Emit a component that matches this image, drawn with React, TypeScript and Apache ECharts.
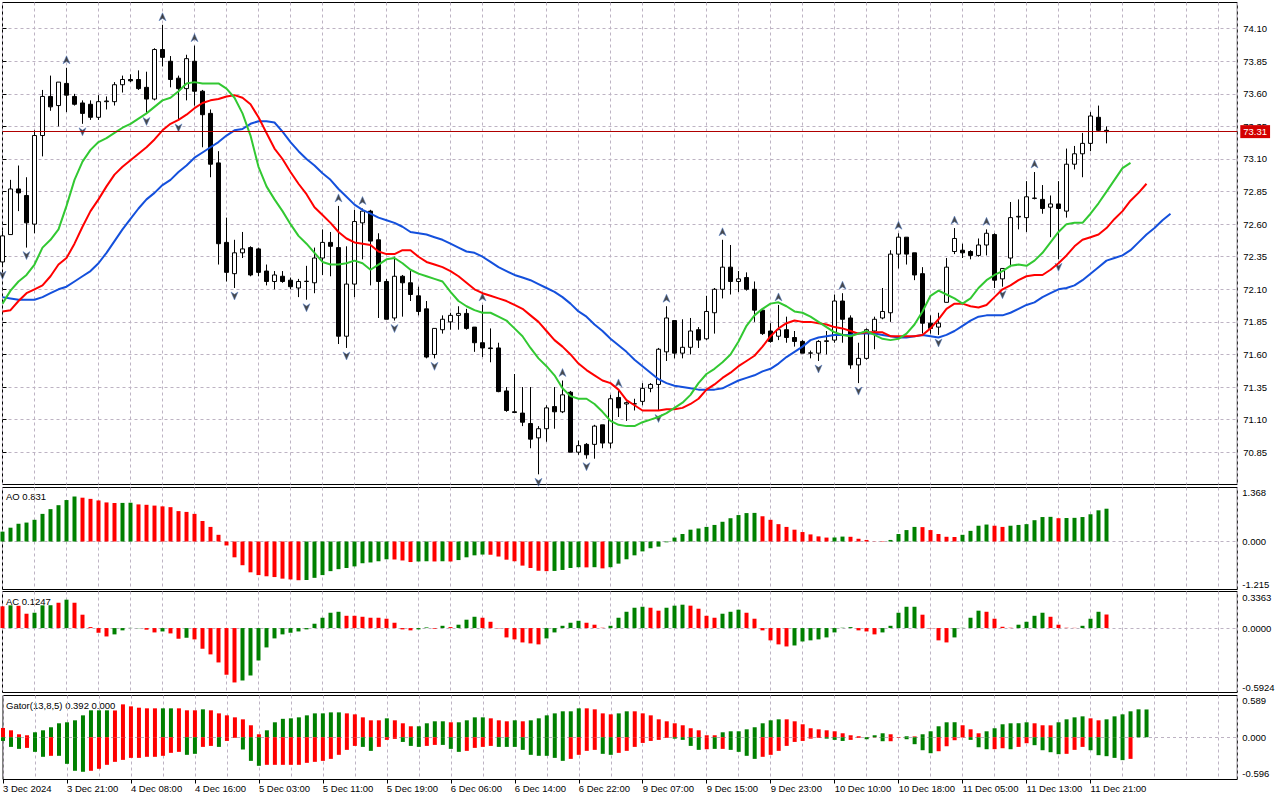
import React, { useEffect, useRef } from "react";
import * as echarts from "echarts";

// ---------- data ----------
const tickLabels = [
  "3 Dec 2024", "3 Dec 21:00", "4 Dec 08:00", "4 Dec 16:00", "5 Dec 03:00", "5 Dec 11:00",
  "5 Dec 19:00", "6 Dec 06:00", "6 Dec 14:00", "6 Dec 22:00", "9 Dec 07:00", "9 Dec 15:00",
  "9 Dec 23:00", "10 Dec 10:00", "10 Dec 18:00", "11 Dec 05:00", "11 Dec 13:00", "11 Dec 21:00",
];
const LABEL_STEP = 8;

// [open, high, low, close]
const candles = [
  [72.31, 72.55, 72.27, 72.51], [72.52, 72.94, 72.52, 72.87], [72.87, 73.05, 72.70, 72.84], [72.82, 72.96, 72.42, 72.61],
  [72.60, 73.32, 72.53, 73.28], [73.28, 73.63, 73.12, 73.58], [73.58, 73.74, 73.47, 73.50], [73.51, 73.69, 73.35, 73.69],
  [73.68, 73.80, 73.46, 73.59], [73.58, 73.60, 73.51, 73.52], [73.53, 73.55, 73.37, 73.45], [73.52, 73.55, 73.40, 73.42],
  [73.42, 73.59, 73.40, 73.54], [73.54, 73.58, 73.48, 73.545], [73.54, 73.69, 73.51, 73.67], [73.67, 73.74, 73.61, 73.71],
  [73.71, 73.75, 73.69, 73.70], [73.71, 73.78, 73.63, 73.64], [73.65, 73.77, 73.45, 73.56], [73.56, 73.95, 73.55, 73.94],
  [73.94, 74.13, 73.81, 73.88], [73.85, 73.89, 73.65, 73.71], [73.72, 73.74, 73.40, 73.64], [73.64, 73.90, 73.55, 73.87],
  [73.85, 73.97, 73.51, 73.62], [73.62, 73.63, 73.19, 73.44], [73.45, 73.48, 72.96, 73.06], [73.07, 73.16, 72.29, 72.45],
  [72.46, 72.65, 72.16, 72.23], [72.22, 72.48, 72.11, 72.38], [72.38, 72.54, 72.34, 72.41], [72.42, 72.43, 72.20, 72.21],
  [72.41, 72.42, 72.20, 72.23], [72.24, 72.29, 72.13, 72.16], [72.16, 72.24, 72.10, 72.21], [72.20, 72.24, 72.15, 72.16],
  [72.17, 72.19, 72.10, 72.12], [72.11, 72.18, 72.04, 72.16], [72.16, 72.28, 72.02, 72.162], [72.15, 72.42, 72.07, 72.34],
  [72.34, 72.56, 72.21, 72.46], [72.46, 72.54, 72.20, 72.43], [72.42, 72.74, 71.68, 71.74], [71.74, 72.43, 71.65, 72.14],
  [72.14, 72.71, 72.04, 72.62], [72.61, 72.72, 72.33, 72.70], [72.70, 72.71, 72.13, 72.47], [72.48, 72.53, 71.88, 72.16],
  [72.16, 72.18, 71.87, 71.87], [71.88, 72.35, 71.86, 72.20], [72.20, 72.21, 71.89, 72.15], [72.15, 72.24, 72.01, 72.06],
  [72.05, 72.12, 71.90, 71.93], [71.95, 72.01, 71.57, 71.58], [71.60, 71.80, 71.57, 71.80], [71.79, 71.90, 71.76, 71.87],
  [71.85, 71.92, 71.79, 71.90], [71.90, 71.97, 71.79, 71.915], [71.915, 71.95, 71.79, 71.80], [71.81, 71.81, 71.62, 71.69],
  [71.69, 71.98, 71.58, 71.65], [71.65, 71.80, 71.54, 71.645], [71.65, 71.69, 71.31, 71.315], [71.32, 71.35, 71.16, 71.17],
  [71.16, 71.45, 71.15, 71.155], [71.15, 71.35, 71.05, 71.08], [71.07, 71.35, 70.88, 70.95], [70.96, 71.05, 70.68, 71.03],
  [71.03, 71.21, 70.93, 71.19], [71.20, 71.35, 71.03, 71.16], [71.16, 71.40, 71.15, 71.29], [71.31, 71.32, 70.85, 70.85],
  [70.85, 70.94, 70.83, 70.90], [70.91, 70.92, 70.80, 70.83], [70.91, 71.06, 70.80, 71.05], [71.06, 71.06, 70.88, 70.92],
  [70.92, 71.29, 70.88, 71.26], [71.27, 71.32, 71.12, 71.19], [71.22, 71.24, 71.09, 71.23], [71.22, 71.26, 71.17, 71.222],
  [71.24, 71.38, 71.21, 71.34], [71.34, 71.38, 71.31, 71.37], [71.37, 71.65, 71.17, 71.64], [71.62, 71.97, 71.55, 71.88],
  [71.86, 71.86, 71.57, 71.61], [71.61, 71.87, 71.57, 71.655], [71.655, 71.88, 71.60, 71.78], [71.79, 71.81, 71.65, 71.71],
  [71.72, 72.05, 71.71, 71.93], [71.92, 72.11, 71.76, 72.10], [72.10, 72.48, 72.03, 72.27], [72.27, 72.44, 72.06, 72.16],
  [72.16, 72.24, 72.08, 72.18], [72.19, 72.23, 72.09, 72.10], [72.10, 72.16, 71.85, 71.94], [71.94, 71.95, 71.75, 71.76],
  [71.78, 71.84, 71.69, 71.70], [71.74, 71.98, 71.71, 71.79], [71.79, 71.89, 71.69, 71.73], [71.73, 71.78, 71.66, 71.70],
  [71.70, 71.71, 71.61, 71.61], [71.61, 71.63, 71.57, 71.612], [71.61, 71.71, 71.55, 71.70], [71.70, 71.78, 71.60, 71.705],
  [71.71, 72.06, 71.69, 72.01], [72.01, 72.07, 71.69, 71.87], [71.88, 71.90, 71.49, 71.52], [71.52, 71.69, 71.38, 71.57],
  [71.57, 71.80, 71.56, 71.79], [71.78, 71.89, 71.64, 71.87], [71.88, 72.11, 71.87, 71.93], [71.92, 72.40, 71.85, 72.37],
  [72.37, 72.53, 72.26, 72.50], [72.50, 72.50, 72.29, 72.37], [72.38, 72.38, 72.17, 72.21], [72.22, 72.27, 71.76, 71.84],
  [71.84, 71.90, 71.76, 71.80], [71.81, 71.92, 71.75, 71.84], [72.00, 72.34, 72.00, 72.27], [72.39, 72.57, 72.37, 72.49],
  [72.40, 72.45, 72.34, 72.38], [72.39, 72.40, 72.33, 72.36], [72.36, 72.49, 72.35, 72.44], [72.44, 72.56, 72.36, 72.53],
  [72.52, 72.53, 72.11, 72.17], [72.18, 72.26, 72.12, 72.26], [72.34, 72.77, 72.27, 72.65], [72.655, 72.79, 72.56, 72.66],
  [72.65, 72.93, 72.54, 72.81], [72.80, 73.00, 72.79, 72.798], [72.79, 72.90, 72.68, 72.72], [72.73, 72.82, 72.50, 72.755],
  [72.755, 72.93, 72.33, 72.72], [72.70, 73.18, 72.65, 73.06], [73.06, 73.20, 73.02, 73.14], [73.14, 73.30, 72.96, 73.22],
  [73.22, 73.46, 73.16, 73.43], [73.42, 73.51, 73.31, 73.32], [73.32, 73.35, 73.22, 73.31],
];

// Alligator lines (as displayed, already shifted forward)
const lips = [
  71.99, 72.09, 72.16, 72.21, 72.29, 72.42, 72.48, 72.56, 72.74, 72.94,
  73.08, 73.17, 73.23, 73.26, 73.30, 73.34, 73.37, 73.41, 73.45, 73.50,
  73.55, 73.57, 73.62, 73.68, 73.69, 73.68, 73.68, 73.68, 73.64, 73.57,
  73.45, 73.28, 73.04, 72.89, 72.79, 72.70, 72.60, 72.51, 72.45, 72.38,
  72.31, 72.29, 72.29, 72.30, 72.32, 72.30, 72.25, 72.29, 72.33, 72.34,
  72.30, 72.25, 72.22, 72.20, 72.18, 72.16, 72.08, 72.01, 71.97, 71.94,
  71.92, 71.92, 71.89, 71.86, 71.80, 71.74, 71.65, 71.57, 71.51, 71.44,
  71.34, 71.28, 71.26, 71.26, 71.22, 71.16, 71.09, 71.06, 71.05, 71.05,
  71.08, 71.10, 71.12, 71.15, 71.19, 71.23, 71.29, 71.38, 71.45, 71.49,
  71.54, 71.60, 71.70, 71.82, 71.90, 71.95, 71.99, 72.00, 71.97, 71.93,
  71.92, 71.89, 71.85, 71.81, 71.77, 71.75, 71.74, 71.76, 71.78, 71.75,
  71.72, 71.71, 71.72, 71.76, 71.83, 71.93, 72.05, 72.09, 72.06, 72.03,
  71.99, 72.03, 72.11, 72.17, 72.21, 72.24, 72.28, 72.29, 72.28, 72.32,
  72.38, 72.46, 72.54, 72.60, 72.61, 72.61, 72.68, 72.76, 72.85, 72.94,
  73.03, 73.07,
];
const teeth = [
  71.93, 71.94, 72.01, 72.07, 72.10, 72.13, 72.20, 72.29, 72.34, 72.45,
  72.58, 72.70, 72.79, 72.89, 72.98, 73.04, 73.09, 73.14, 73.19, 73.25,
  73.32, 73.37, 73.40, 73.44, 73.49, 73.53, 73.55, 73.56, 73.58, 73.59,
  73.57, 73.52, 73.42, 73.30, 73.18, 73.10, 73.00, 72.91, 72.83, 72.73,
  72.67, 72.61, 72.54, 72.49, 72.46, 72.45, 72.44, 72.39, 72.37, 72.37,
  72.40, 72.40, 72.35, 72.31, 72.29, 72.27, 72.24, 72.20, 72.15, 72.10,
  72.07, 72.05, 72.03, 72.01, 71.98, 71.95, 71.90, 71.85, 71.78, 71.71,
  71.66, 71.60, 71.53, 71.48, 71.44, 71.40, 71.38, 71.33, 71.25, 71.21,
  71.17, 71.17, 71.17, 71.18, 71.18, 71.19, 71.22, 71.26, 71.33, 71.37,
  71.42, 71.46, 71.51, 71.55, 71.59, 71.66, 71.74, 71.80, 71.84, 71.86,
  71.85, 71.85, 71.84, 71.83, 71.81, 71.80, 71.78, 71.76, 71.77, 71.77,
  71.77, 71.74, 71.74, 71.74, 71.74, 71.75, 71.80, 71.87, 71.95, 71.99,
  71.99, 71.97, 71.96, 71.98, 72.04, 72.10, 72.13, 72.17, 72.20, 72.21,
  72.21, 72.25, 72.30, 72.36, 72.43, 72.48, 72.50, 72.52, 72.57, 72.64,
  72.70, 72.78, 72.84, 72.91,
];
const jaw = [
  72.04, 72.03, 72.02, 72.02, 72.02, 72.04, 72.07, 72.10, 72.12, 72.16,
  72.20, 72.24, 72.30, 72.38, 72.47, 72.56, 72.64, 72.72, 72.79, 72.84,
  72.90, 72.94, 73.00, 73.05, 73.11, 73.15, 73.19, 73.23, 73.28, 73.32,
  73.33, 73.37, 73.39, 73.39, 73.38, 73.31, 73.23, 73.16, 73.10, 73.05,
  72.99, 72.94, 72.87, 72.81, 72.75, 72.71, 72.68, 72.65, 72.63, 72.61,
  72.58, 72.54, 72.53, 72.52, 72.50, 72.48, 72.45, 72.42, 72.39, 72.38,
  72.35, 72.31, 72.27, 72.24, 72.21, 72.19, 72.17, 72.14, 72.11, 72.08,
  72.04, 71.99, 71.93, 71.89, 71.83, 71.78, 71.72, 71.67, 71.62, 71.56,
  71.51, 71.46, 71.41, 71.38, 71.36, 71.35, 71.34, 71.33, 71.33, 71.33,
  71.34, 71.37, 71.40, 71.42, 71.44, 71.47, 71.49, 71.53, 71.58, 71.62,
  71.66, 71.71, 71.73, 71.74, 71.75, 71.75, 71.75, 71.76, 71.76, 71.76,
  71.75, 71.74, 71.73, 71.73, 71.74, 71.75, 71.74, 71.73, 71.75, 71.78,
  71.82, 71.86, 71.89, 71.90, 71.90, 71.90, 71.92, 71.95, 71.98, 72.00,
  72.04, 72.07, 72.10, 72.11, 72.13, 72.17, 72.22, 72.27, 72.32, 72.34,
  72.36, 72.40, 72.46, 72.52, 72.57, 72.63, 72.68,
];

// Fractal bar indices
const fractalUp = [8, 20, 24, 42, 45, 60, 70, 77, 83, 90, 97, 105, 112, 119, 123, 129];
const fractalDown = [0, 3, 10, 18, 22, 29, 38, 43, 49, 54, 67, 73, 82, 102, 107, 117, 125, 132];

// Awesome Oscillator
const ao = [
  0.25, 0.35, 0.45, 0.48, 0.55, 0.70, 0.82, 0.92, 1.05, 1.14,
  1.11, 1.08, 1.04, 0.99, 0.975, 0.978, 0.982, 0.94, 0.93, 0.91,
  0.89, 0.87, 0.77, 0.75, 0.70, 0.52, 0.37, 0.17, -0.10, -0.40,
  -0.60, -0.78, -0.85, -0.88, -0.90, -0.94, -0.96, -0.98, -0.975, -0.92,
  -0.85, -0.75, -0.70, -0.67, -0.63, -0.55, -0.53, -0.50, -0.45, -0.455,
  -0.48, -0.52, -0.505, -0.50, -0.505, -0.50, -0.505, -0.47, -0.40, -0.35,
  -0.33, -0.335, -0.38, -0.46, -0.50, -0.61, -0.67, -0.74, -0.75, -0.745,
  -0.72, -0.67, -0.65, -0.655, -0.65, -0.68, -0.65, -0.56, -0.45, -0.35,
  -0.25, -0.17, -0.13, -0.02, 0.10, 0.19, 0.30, 0.33, 0.37, 0.42,
  0.50, 0.59, 0.67, 0.72, 0.725, 0.64, 0.55, 0.44, 0.37, 0.30,
  0.24, 0.18, 0.13, 0.10, 0.102, 0.125, 0.12, 0.07, 0.04, 0.005,
  -0.01, 0.04, 0.19, 0.29, 0.37, 0.365, 0.29, 0.19, 0.12, 0.115,
  0.17, 0.27, 0.40, 0.43, 0.40, 0.37, 0.40, 0.42, 0.44, 0.54,
  0.62, 0.625, 0.59, 0.595, 0.60, 0.62, 0.69, 0.79, 0.831,
];

// Accelerator Oscillator and its bar direction (g = up, r = down)
const ac = [
  0.20, 0.209, 0.205, 0.132, 0.141, 0.209, 0.21, 0.233, 0.261, 0.233,
  0.123, 0.009, -0.043, -0.077, -0.058, -0.021, 0.002, -0.002, -0.015, -0.040,
  -0.031, -0.049, -0.098, -0.089, -0.104, -0.19, -0.242, -0.316, -0.429, -0.50,
  -0.482, -0.436, -0.298, -0.178, -0.095, -0.058, -0.043, -0.031, -0.012, 0.04,
  0.095, 0.141, 0.15, 0.113, 0.113, 0.104, 0.095, 0.095, 0.086, 0.049,
  -0.012, -0.021, -0.012, 0.006, -0.006, 0.021, 0.009, 0.031, 0.077, 0.104,
  0.095, 0.058, -0.003, -0.086, -0.104, -0.132, -0.141, -0.15, -0.095, -0.04,
  0.021, 0.049, 0.067, 0.049, 0.031, 0.003, 0.021, 0.095, 0.15, 0.187,
  0.196, 0.187, 0.16, 0.187, 0.206, 0.215, 0.206, 0.178, 0.113, 0.095,
  0.132, 0.15, 0.169, 0.141, 0.086, -0.021, -0.113, -0.15, -0.169, -0.16,
  -0.123, -0.113, -0.104, -0.086, -0.04, 0.003, 0.009, -0.021, -0.031, -0.058,
  -0.04, 0.021, 0.141, 0.196, 0.196, 0.123, -0.003, -0.113, -0.132, -0.086,
  0.002, 0.095, 0.16, 0.15, 0.086, 0.012, 0.003, 0.031, 0.058, 0.113,
  0.141, 0.104, 0.031, 0.003, 0.002, 0.021, 0.086, 0.15, 0.1247,
];
const acDir =
  "rgrrgggrgr" + "rrrrggggrr" + "grrgrrrrrr" + "gggggggggg" + "gggrrrrrrr" +
  "rrggrgrggg" + "rrrrrrrrgg" + "gggrrrgggg" + "grrgggrrrr" + "gggrrrrrrg" +
  "gggggggrrr" + "gggggrrrrg" + "gggrrrrggg" + "grrrrgggr";

// Gator oscillator (upper = |jaw - teeth|, lower = -|teeth - lips|)
const gatorUp = [
  0.131, 0.098, 0.042, 0.028, 0.07, 0.098, 0.141, 0.197, 0.211, 0.239,
  0.309, 0.38, 0.38, 0.38, 0.378, 0.464, 0.436, 0.417, 0.408, 0.408,
  0.408, 0.408, 0.408, 0.38, 0.38, 0.394, 0.38, 0.337, 0.309, 0.281,
  0.253, 0.169, 0.042, 0.098, 0.211, 0.26, 0.267, 0.281, 0.309, 0.337,
  0.337, 0.351, 0.351, 0.337, 0.323, 0.281, 0.239, 0.239, 0.267, 0.239,
  0.197, 0.155, 0.155, 0.197, 0.225, 0.225, 0.211, 0.211, 0.239, 0.281,
  0.281, 0.267, 0.239, 0.225, 0.239, 0.225, 0.239, 0.267, 0.309, 0.337,
  0.366, 0.366, 0.408, 0.408, 0.394, 0.337, 0.323, 0.337, 0.366, 0.366,
  0.337, 0.309, 0.253, 0.225, 0.197, 0.169, 0.127, 0.098, 0.028, 0.028,
  0.07, 0.084, 0.084, 0.112, 0.141, 0.197, 0.239, 0.253, 0.253, 0.225,
  0.183, 0.127, 0.112, 0.098, 0.084, 0.056, 0.028, 0.014, 0.003, 0.028,
  0.056, 0.042, 0.003, 0.014, 0.012, 0.042, 0.084, 0.155, 0.211, 0.212,
  0.169, 0.112, 0.056, 0.084, 0.127, 0.183, 0.197, 0.198, 0.211, 0.197,
  0.169, 0.168, 0.211, 0.253, 0.281, 0.295, 0.267, 0.239, 0.253, 0.295,
  0.323, 0.366, 0.394, 0.392,
];
const gatorUpDir =
  "rrrrgggggg" + "ggggrrrrrr" + "ggrrrgrrrr" + "rrrggggggg" + "gggrrrrrgr" +
  "rrggggrggg" + "grrrgrgggg" + "gggrrrrggr" + "rrrrrrrrrr" + "ggggggggrr" +
  "rrrrrrrrrg" + "grrgrggggg" + "rrrggggggr" + "rrggggrrgg" + "gggg";
const gatorDown = [
  -0.052, -0.136, -0.164, -0.15, -0.206, -0.276, -0.262, -0.262, -0.375, -0.473,
  -0.487, -0.473, -0.445, -0.389, -0.347, -0.319, -0.291, -0.291, -0.276, -0.276,
  -0.262, -0.22, -0.206, -0.248, -0.234, -0.136, -0.122, -0.136, -0.052, -0.01,
  -0.173, -0.333, -0.403, -0.389, -0.389, -0.389, -0.389, -0.389, -0.361, -0.347,
  -0.333, -0.305, -0.248, -0.178, -0.122, -0.136, -0.192, -0.136, -0.037, -0.023,
  -0.066, -0.122, -0.136, -0.122, -0.108, -0.108, -0.164, -0.206, -0.192, -0.15,
  -0.136, -0.122, -0.136, -0.136, -0.136, -0.178, -0.248, -0.262, -0.262, -0.291,
  -0.333, -0.305, -0.248, -0.192, -0.178, -0.234, -0.248, -0.22, -0.192, -0.136,
  -0.08, -0.052, -0.037, -0.01, -0.02, -0.037, -0.122, -0.178, -0.169, -0.164,
  -0.164, -0.178, -0.206, -0.262, -0.305, -0.276, -0.248, -0.192, -0.122, -0.066,
  -0.052, -0.02, -0.01, -0.02, -0.037, -0.052, -0.037, -0.01, -0.028, -0.003,
  -0.056, -0.056, -0.005, -0.028, -0.098, -0.183, -0.225, -0.197, -0.127, -0.042,
  -0.003, -0.037, -0.141, -0.169, -0.168, -0.155, -0.169, -0.136, -0.084, -0.112,
  -0.183, -0.211, -0.239, -0.234, -0.178, -0.136, -0.183, -0.253, -0.267, -0.291,
  -0.323, -0.305, 0, 0,
];
const gatorDownDir =
  "gggrggrggg" + "grrrrrrrrr" + "rrrggrrgrr" + "gggrrrrrrr" + "rrrrrggrrr" +
  "gggrrgggrr" + "rrgggggggg" + "grrrrggrrr" + "rrrrggggrg" + "rggggrrrrr" +
  "rrrgggrrgr" + "grrggggrrr" + "rgggrrgrrg" + "gggrrrgggg" + "grrr";

const priceTicks = [70.85, 71.10, 71.35, 71.60, 71.85, 72.10, 72.35, 72.60, 72.85, 73.10, 73.35, 73.60, 73.85, 74.10];
const lastPrice = 73.31;
const aoTitle = "AO 0.831";
const acTitle = "AC 0.1247";
const gatorTitle = "Gator(13,8,5) 0.392 0.000";
const aoScale = { min: -1.215, max: 1.368 };
const acScale = { min: -0.5924, max: 0.3363 };
const gatorScale = { min: -0.596, max: 0.589 };

// ---------- style / layout ----------
const FONT = "Liberation Sans";
const FS = 9.5;
const GREEN = "#008000";
const RED = "#ff0000";
const GRIDC = "#bdb3c3";
const LEFT = 2.5;
const RIGHT = 42.7;
const X_MAX = (1280 - RIGHT - LEFT) / 8; // 8 px per bar

const upArrow = "path://M5,0 L10,12 L5,8.5 L0,12 Z";
const downArrow = "path://M0,0 L5,3.5 L10,0 L5,12 Z";

export default function App() {
  const ref = useRef<HTMLDivElement>(null);

  useEffect(() => {
    if (!ref.current) return;
    const chart = echarts.init(ref.current, undefined, { renderer: "svg" });

    const split = { show: true, lineStyle: { color: GRIDC, type: [3, 3] as any, width: 1 } };
    const baseX = (gridIndex: number) => ({
      type: "value",
      gridIndex,
      min: 0,
      max: X_MAX,
      interval: 4,
      axisLine: { show: false },
      axisTick: { show: false },
      axisLabel: { show: false },
      splitLine: split,
    });
    const labelPos = tickLabels.map((_, k) => k * LABEL_STEP);

    const subY = (gridIndex: number, sc: { min: number; max: number }, labelVals: number[], texts: string[], digits: number) => ({
      type: "value",
      gridIndex,
      position: "right",
      min: sc.min,
      max: sc.max,
      axisLine: { show: false },
      axisTick: { show: false, customValues: [0] },
      splitLine: split,
      axisLabel: {
        customValues: labelVals,
        margin: 5,
        color: "#000",
        fontSize: FS,
        fontFamily: FONT,
        formatter: (v: number) => (v > 0.05 ? texts[0] : v < -0.05 ? texts[2] : (0).toFixed(digits)),
      },
    });

    const gridBox = { show: true, borderColor: "#000", borderWidth: 1, backgroundColor: "#fff" };

    chart.setOption({
      animation: false,
      backgroundColor: "#fff",
      textStyle: { fontFamily: FONT },
      grid: [
        { left: LEFT, right: RIGHT, top: 2.5, height: 482, ...gridBox },
        { left: LEFT, right: RIGHT, top: 487.5, height: 102, ...gridBox },
        { left: LEFT, right: RIGHT, top: 591.5, height: 101, ...gridBox },
        { left: LEFT, right: RIGHT, top: 695.5, height: 84, ...gridBox },
      ],
      xAxis: [
        baseX(0),
        baseX(1),
        baseX(2),
        baseX(3),
        {
          type: "value",
          gridIndex: 3,
          position: "bottom",
          min: 0,
          max: X_MAX,
          interval: LABEL_STEP,
          axisLine: { show: false },
          splitLine: { show: false },
          axisTick: { show: true, customValues: labelPos, length: 4, lineStyle: { color: "#000" } },
          axisLabel: {
            customValues: labelPos,
            align: "left",
            margin: 4,
            color: "#000",
            fontSize: FS,
            fontFamily: FONT,
            formatter: (v: number) => tickLabels[Math.round(v / LABEL_STEP)] ?? "",
          },
        },
      ],
      yAxis: [
        {
          type: "value",
          gridIndex: 0,
          position: "right",
          min: 70.602,
          max: 74.301,
          axisLine: { show: false },
          axisTick: { show: true, customValues: priceTicks, length: 4, lineStyle: { color: "#000" } },
          splitLine: split,
          axisLabel: {
            customValues: priceTicks,
            margin: 6,
            color: "#000",
            fontSize: FS,
            fontFamily: FONT,
            formatter: (v: number) => v.toFixed(2),
          },
        },
        subY(1, aoScale, [1.246, 0, -1.083], [aoScale.max.toFixed(3), "0", aoScale.min.toFixed(3)], 3),
        subY(2, acScale, [0.283, 0, -0.542], [acScale.max.toFixed(4), "0", acScale.min.toFixed(4)], 4),
        subY(3, gatorScale, [0.521, 0, -0.514], [gatorScale.max.toFixed(3), "0", gatorScale.min.toFixed(3)], 3),
      ],
      series: [
        {
          type: "candlestick",
          xAxisIndex: 0,
          yAxisIndex: 0,
          barWidth: 5,
          clip: true,
          data: candles.map(([o, h, l, c], i) => [i, o, c, l, h]),
          itemStyle: { color: "#fff", color0: "#000", borderColor: "#000", borderColor0: "#000", borderColorDoji: "#000", borderWidth: 1 },
          markLine: {
            silent: true,
            symbol: ["none", "none"],
            animation: false,
            z: 10,
            lineStyle: { color: "#b00000", width: 1, type: "solid" },
            label: {
              show: true,
              position: "end",
              distance: 3,
              formatter: lastPrice.toFixed(2),
              backgroundColor: "#d40000",
              color: "#fff",
              padding: [2, 3, 1, 3],
              fontSize: FS,
              fontFamily: FONT,
            },
            data: [{ yAxis: lastPrice }],
          },
        },
        {
          type: "line", name: "Jaw", xAxisIndex: 0, yAxisIndex: 0, symbol: "none", clip: true,
          lineStyle: { color: "#1450dc", width: 2 }, data: jaw.map((v, i) => [i, v]),
        },
        {
          type: "line", name: "Teeth", xAxisIndex: 0, yAxisIndex: 0, symbol: "none", clip: true,
          lineStyle: { color: "#ff0000", width: 2 }, data: teeth.map((v, i) => [i, v]),
        },
        {
          type: "line", name: "Lips", xAxisIndex: 0, yAxisIndex: 0, symbol: "none", clip: true,
          lineStyle: { color: "#32c832", width: 2 }, data: lips.map((v, i) => [i, v]),
        },
        {
          type: "scatter", xAxisIndex: 0, yAxisIndex: 0, symbol: upArrow, symbolSize: [7, 8],
          symbolOffset: [0, -8], itemStyle: { color: "#1c1c1c", borderColor: "#4a78c8", borderWidth: 0.6 }, clip: true,
          data: fractalUp.map((i) => [i, candles[i][1]]),
        },
        {
          type: "scatter", xAxisIndex: 0, yAxisIndex: 0, symbol: downArrow, symbolSize: [7, 8],
          symbolOffset: [0, 8], itemStyle: { color: "#1c1c1c", borderColor: "#4a78c8", borderWidth: 0.6 }, clip: true,
          data: fractalDown.map((i) => [i, candles[i][2]]),
        },
        {
          type: "bar", xAxisIndex: 1, yAxisIndex: 1, barWidth: 4, clip: true,
          data: ao.map((v, i) => ({ value: [i, v], itemStyle: { color: i === 0 || v > ao[i - 1] ? GREEN : RED } })),
        },
        {
          type: "bar", xAxisIndex: 2, yAxisIndex: 2, barWidth: 4, clip: true,
          data: ac.map((v, i) => ({ value: [i, v], itemStyle: { color: acDir[i] === "g" ? GREEN : RED } })),
        },
        {
          type: "bar", xAxisIndex: 3, yAxisIndex: 3, barWidth: 4, barGap: "-100%", clip: true,
          data: gatorUp.map((v, i) => ({ value: [i, v], itemStyle: { color: gatorUpDir[i] === "g" ? GREEN : RED } })),
        },
        {
          type: "bar", xAxisIndex: 3, yAxisIndex: 3, barWidth: 4, barGap: "-100%", clip: true,
          data: gatorDown.map((v, i) => ({ value: [i, v], itemStyle: { color: gatorDownDir[i] === "g" ? GREEN : RED } })),
        },
      ],
      graphic: [
        { type: "text", x: 6, y: 496.5, style: { text: aoTitle, fill: "#000", fontSize: FS, fontFamily: FONT, verticalAlign: "middle" } },
        { type: "text", x: 6, y: 601.5, style: { text: acTitle, fill: "#000", fontSize: FS, fontFamily: FONT, verticalAlign: "middle" } },
        { type: "text", x: 6, y: 705, style: { text: gatorTitle, fill: "#000", fontSize: FS, fontFamily: FONT, verticalAlign: "middle" } },
      ],
    });

    return () => chart.dispose();
  }, []);

  return (
    <div
      ref={ref}
      style={{ position: "fixed", left: 0, top: 0, width: 1280, height: 800, background: "#fff" }}
    />
  );
}
